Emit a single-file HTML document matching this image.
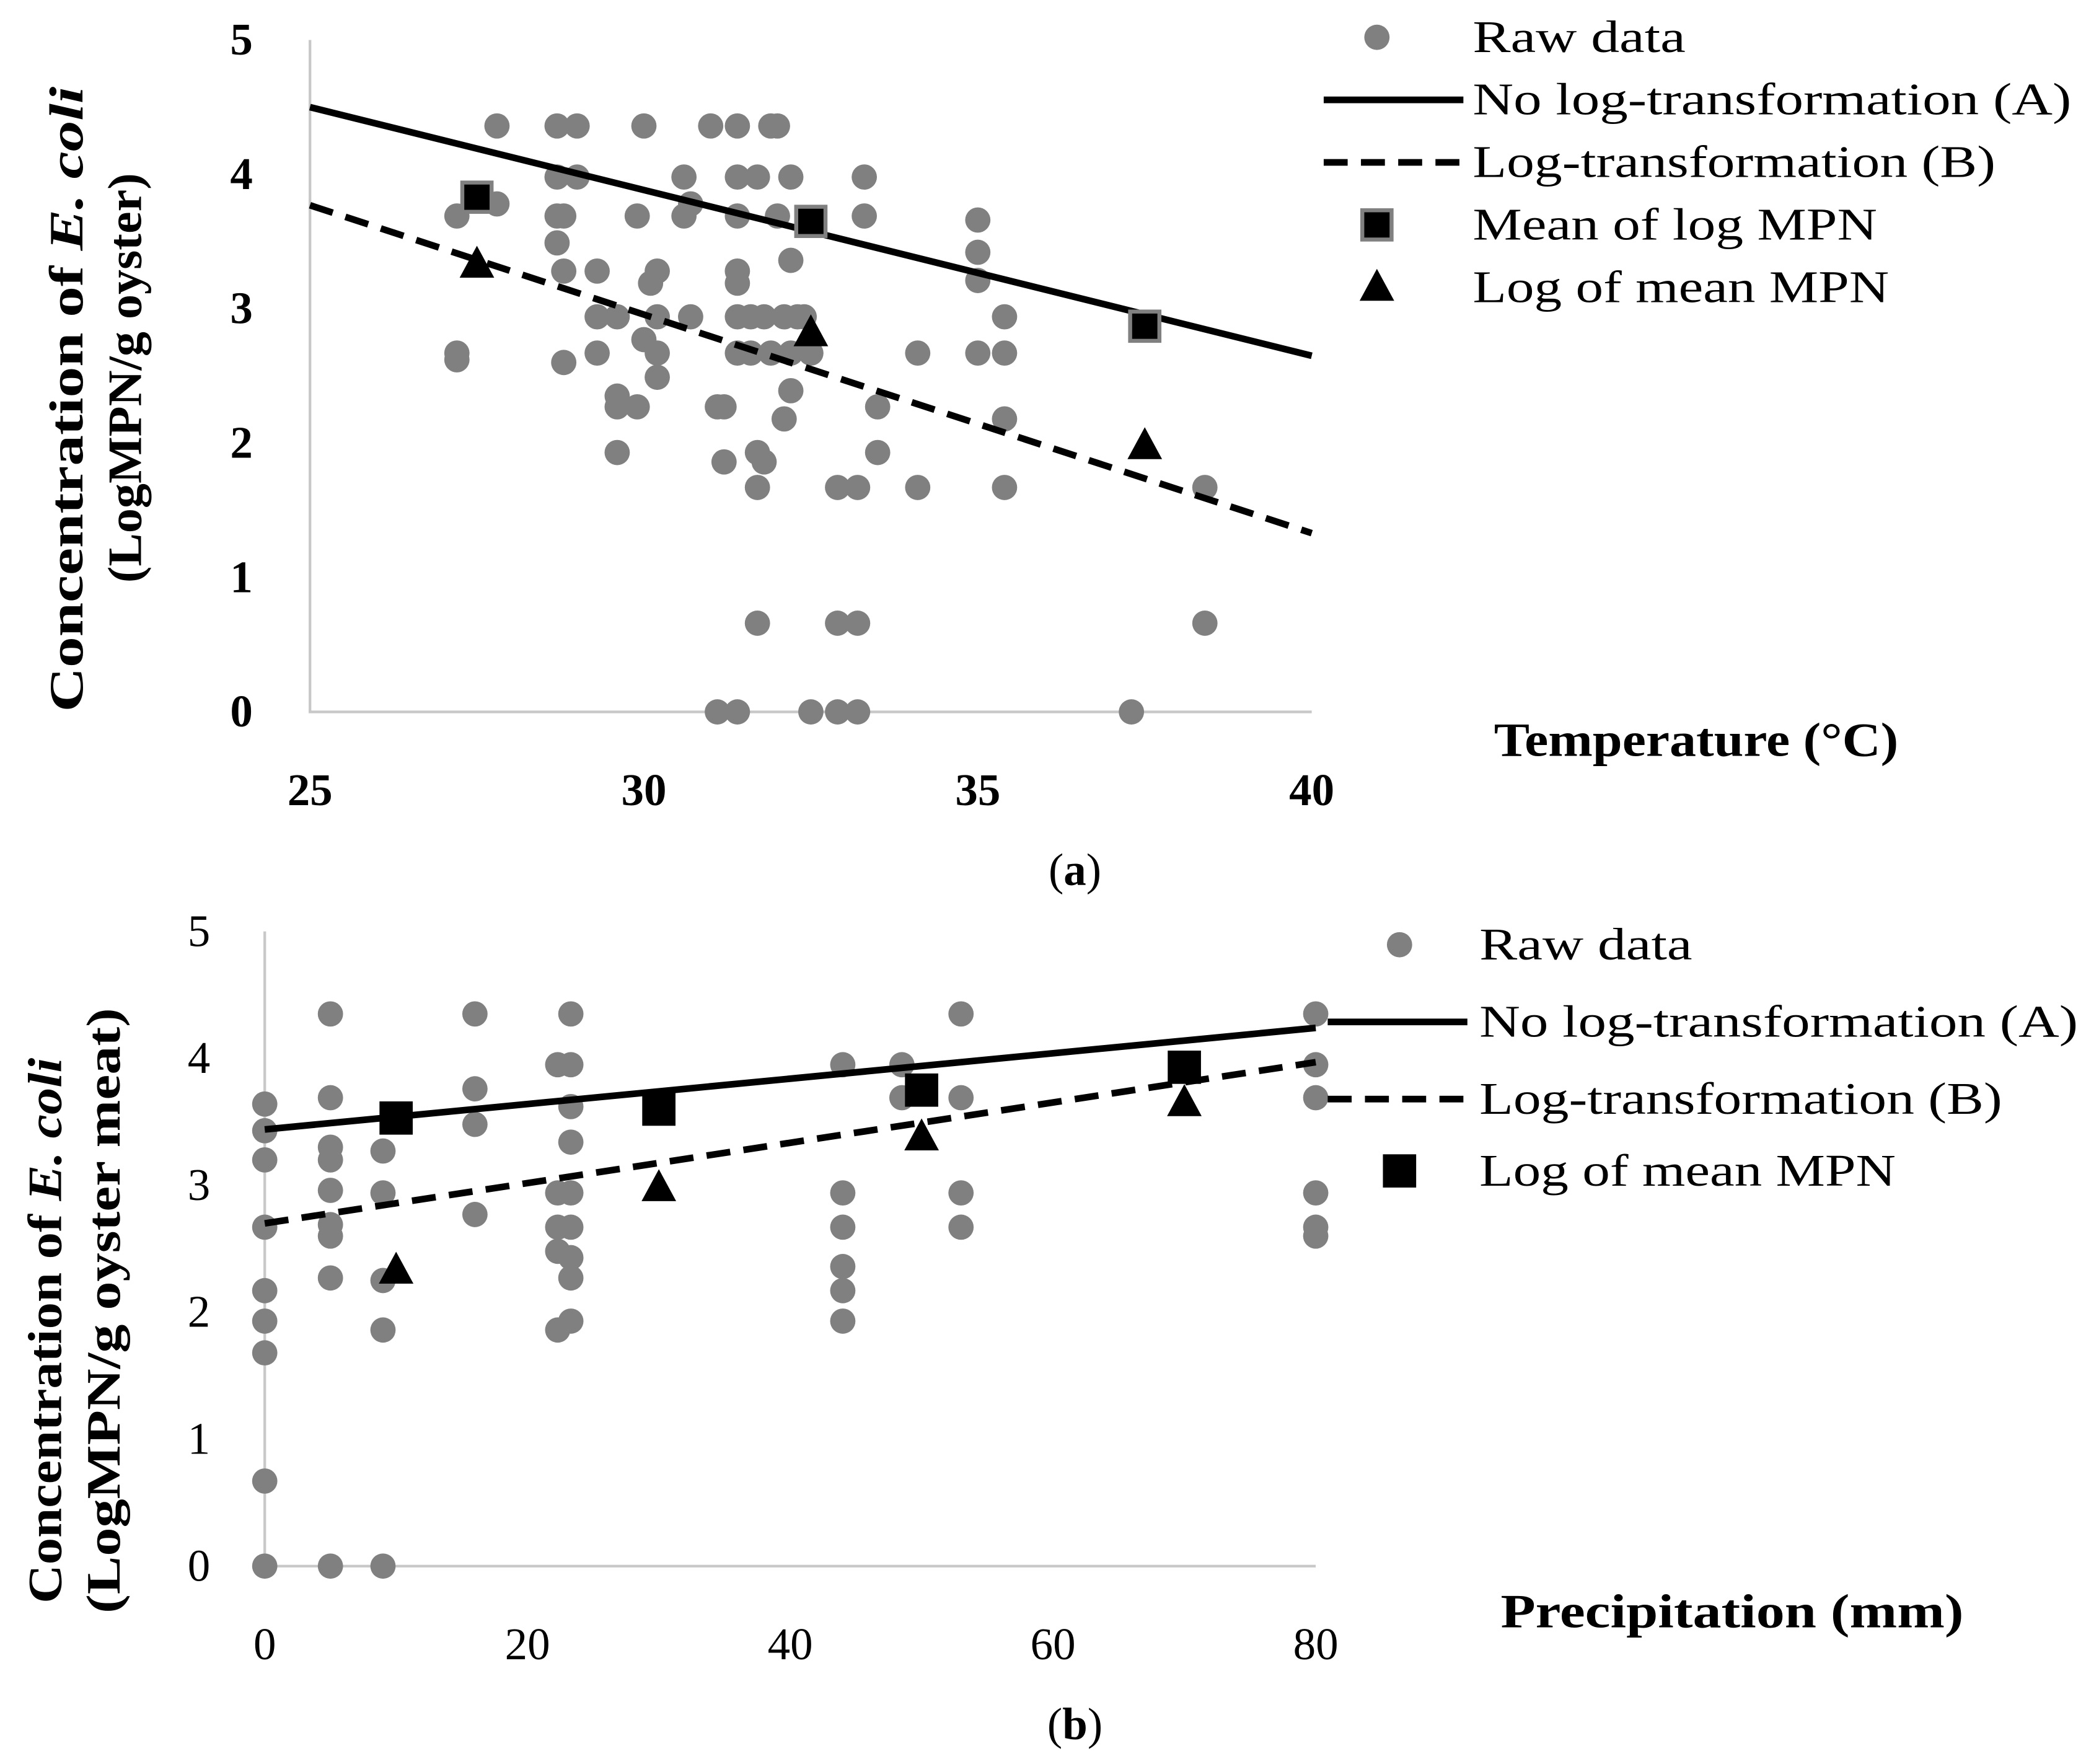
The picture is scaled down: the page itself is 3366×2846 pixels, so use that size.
<!DOCTYPE html>
<html><head><meta charset="utf-8"><style>html,body{margin:0;padding:0;background:#fff}svg{display:block}text{font-family:"Liberation Serif",serif;fill:#000}</style></head>
<body>
<svg id="s" width="3366" height="2846" viewBox="0 0 1568 1325.7" xmlns="http://www.w3.org/2000/svg"></svg>
<script>
// ---- Chart (a) data ----
const aRawX=[27.2,27.2,27.2,27.8,27.8,28.7,29.0,28.7,29.0,28.7,28.8,28.7,28.8,28.8,29.3,29.3,29.6,29.3,29.6,29.6,29.6,29.9,29.9,30.0,30.0,30.2,30.1,30.2,30.2,30.2,30.6,30.6,30.7,30.7,31.0,31.4,31.9,32.0,31.4,31.7,32.2,31.4,32.0,31.4,31.4,31.4,31.6,31.8,32.1,32.3,32.4,31.4,31.6,31.9,32.2,32.5,32.2,32.2,32.1,31.1,31.2,31.2,31.7,31.8,31.7,32.9,33.2,33.5,33.5,33.3,33.3,34.1,34.1,35.0,35.0,35.0,35.0,35.4,35.4,35.4,35.4,38.4,31.7,32.9,33.2,38.4,31.1,31.4,32.5,32.9,33.2,37.3];
const aRawY=[2.62,2.67,3.69,3.78,4.36,4.36,4.36,3.98,3.98,3.69,3.69,3.49,3.28,2.6,3.28,2.94,2.94,2.67,2.35,2.27,1.93,2.27,3.69,4.36,2.77,3.28,3.19,2.94,2.67,2.49,3.98,3.69,3.78,2.94,4.36,4.36,4.36,4.36,3.98,3.98,3.98,3.69,3.69,3.28,3.19,2.94,2.94,2.94,2.94,2.94,2.94,2.67,2.67,2.67,2.67,2.67,3.36,2.39,2.18,2.27,2.27,1.86,1.93,1.86,1.67,1.67,1.67,2.27,1.93,3.69,3.98,2.67,1.67,3.66,3.42,3.21,2.67,2.94,2.67,2.18,1.67,1.67,0.66,0.66,0.66,0.66,0,0,0,0,0,0];
const aMeanX=[27.5,32.5,37.5];
const aMeanLog=[3.83,3.65,2.87];
const aLogMean=[3.33,2.82,1.98];
const aLineX=[25,40];
const aLineA=[4.5,2.65];
const aLineB=[3.77,1.33];
const aXTicks=[25,30,35,40];
const aYTicks=[0,1,2,3,4,5];
// ---- Chart (b) data ----
const bRawX=[0,0,0,0,0,0,0,0,0,5,5,5,5,5,5,5,5,5,9,9,9,9,9,16,16,16,16,23.3,22.3,23.3,23.3,23.3,22.3,23.3,22.3,23.3,22.3,23.3,23.3,23.3,22.3,44,44,44,44,44,44,48.5,48.5,53,53,53,53,80,80,80,80,80,80];
const bRawY=[3.64,3.43,3.2,2.67,2.17,1.93,1.68,0.67,0,4.35,3.69,3.3,3.2,2.96,2.69,2.6,2.27,0,3.27,2.94,2.25,1.86,0,4.35,3.76,3.48,2.77,4.35,3.95,3.95,3.62,3.34,2.94,2.94,2.67,2.67,2.48,2.43,2.27,1.93,1.86,3.95,2.94,2.67,2.36,2.17,1.93,3.95,3.69,4.35,3.69,2.94,2.67,4.35,3.95,3.69,2.94,2.67,2.6];
const bMeanX=[10,30,50,70];
const bLogMeanSq=[3.53,3.6,3.75,3.93];
const bTri=[2.33,2.98,3.38,3.65];
const bLineX=[0,80];
const bLineA=[3.44,4.24];
const bLineB=[2.7,3.97];
const bXTicks=[0,20,40,60,80];
const bYTicks=[0,1,2,3,4,5];

const S=document.getElementById('s');const NS='http://www.w3.org/2000/svg';
function mk(t,a,p){const e=document.createElementNS(NS,t);for(const k in a)e.setAttribute(k,a[k]);(p||S).appendChild(e);return e;}
function tx(x,y,str,o,p,len){const e=mk('text',Object.assign({x:x,y:y},o||{}),p);e.textContent=str;if(len){e.setAttribute('textLength',len);e.setAttribute('lengthAdjust','spacingAndGlyphs');}return e;}

function chart(c){
  const g=mk('g',{});
  
  
  const X=v=>c.x0+(v-c.xmin)/(c.xmax-c.xmin)*(c.x1-c.x0);
  const Y=v=>c.y0-(v-0)/5*(c.y0-c.y1);
  const ax=mk('path',{d:`M${c.x0},${c.y1}V${c.y0}H${c.x1}`,stroke:'#c8c8c8','stroke-width':2,fill:'none'},g);
  
  c.xt.forEach(v=>{const t=tx(X(v),c.y0+70,v,{'text-anchor':'middle','font-size':34,'font-weight':c.bold?'bold':'normal'},g);
    });
  c.yt.forEach(v=>{const t=tx(c.x0-c.ytoff,Y(v)+11,v,{'text-anchor':'end','font-size':34,'font-weight':c.bold?'bold':'normal'},g);
    });
  c.rx.forEach((v,i)=>{const p=mk('circle',{cx:X(v),cy:Y(c.ry[i]),r:9.5,fill:'#808080'},g);
    });
  const la=mk('line',{x1:X(c.lx[0]),y1:Y(c.la[0]),x2:X(c.lx[1]),y2:Y(c.la[1]),stroke:'#000','stroke-width':5},g);
  
  const lb=mk('line',{x1:X(c.lx[0]),y1:Y(c.lb[0]),x2:X(c.lx[1]),y2:Y(c.lb[1]),stroke:'#000','stroke-width':5,'stroke-dasharray':'18,10'},g);
  
  c.mx.forEach((v,i)=>{const q=mk('rect',{x:X(v)-11,y:Y(c.sq[i])-11,width:22,height:22,fill:'#000',stroke:c.sqStroke,'stroke-width':3},g);
    
    const cx=X(v),cy=Y(c.tri[i]);
    const t=mk('polygon',{points:`${cx},${cy-14} ${cx-13},${cy+10} ${cx+13},${cy+10}`,fill:'#000'},g);
    });
  const xt=tx(c.xtx,c.xty,c.xtitle,{'text-anchor':'middle','font-size':36,'font-weight':'bold'},g,c.xtlen);
  
  const yg=mk('g',{transform:`translate(${c.ytx},${c.yty}) rotate(-90)`},g);
  
  const l1=mk('text',{x:c.l1c,y:0,'text-anchor':'middle','font-size':36,'font-weight':'bold',textLength:c.l1len,lengthAdjust:'spacingAndGlyphs'},yg);
  const t1=mk('tspan',{},l1);t1.textContent='Concentration of ';
  const t2=mk('tspan',{'font-style':'italic'},l1);t2.textContent='E. coli';
  const l2=mk('text',{x:c.l2c,y:44,'text-anchor':'middle','font-size':36,'font-weight':'bold',textLength:c.l2len,lengthAdjust:'spacingAndGlyphs'},yg);
  l2.textContent=c.ysub;
  const cap=mk('text',{x:808,y:c.capy,'text-anchor':'middle','font-size':34},g);
  
  const b1=mk('tspan',{},cap);b1.textContent='(';const b2=mk('tspan',{'font-weight':'bold'},cap);b2.textContent=c.cap;const b3=mk('tspan',{},cap);b3.textContent=')';
  // legend
  c.leg.forEach((l,i)=>{const y=c.ly[i];const lg=mk('g',{},g);
    
    if(l[0]=='c')mk('circle',{cx:c.lmx,cy:y,r:9.5,fill:'#808080'},lg);
    if(l[0]=='s')mk('line',{x1:c.llx,y1:y,x2:c.llx+105,y2:y,stroke:'#000','stroke-width':5},lg);
    if(l[0]=='d')mk('line',{x1:c.llx,y1:y,x2:c.llx+105,y2:y,stroke:'#000','stroke-width':5,'stroke-dasharray':'18,10'},lg);
    if(l[0]=='q')mk('rect',{x:c.lmx-11,y:y-11,width:22,height:22,fill:'#000',stroke:c.sqStroke,'stroke-width':3},lg);
    if(l[0]=='t')mk('polygon',{points:`${c.lmx},${y-14} ${c.lmx-13},${y+10} ${c.lmx+13},${y+10}`,fill:'#000'},lg);
    tx(c.ltx,y+11,l[1],{'font-size':34},lg,l[2]);});
}
chart({name:'chart-temperature',x0:233,x1:986,xmin:25,xmax:40,y0:535,y1:30,xt:aXTicks,yt:aYTicks,bold:true,ytoff:43,
  rx:aRawX,ry:aRawY,lx:aLineX,la:aLineA,lb:aLineB,mx:aMeanX,sq:aMeanLog,tri:aLogMean,sqStroke:'#808080',
  xtitle:'Temperature (°C)',xtx:1275,xty:568,xtlen:304,ytx:62,yty:290,l1c:-10,l1len:470,l2c:6,l2len:308,ysub:'(LogMPN/g oyster)',cap:'a',capy:665,
  leg:[['c','Raw data',160],['s','No log-transformation (A)',450],['d','Log-transformation (B)',393],['q','Mean of log MPN',304],['t','Log of mean MPN',313]],
  ly:[28,75,122,169,216],lmx:1035,llx:995,ltx:1107});
chart({name:'chart-precipitation',x0:199,x1:989,xmin:0,xmax:80,y0:1177,y1:700,xt:bXTicks,yt:bYTicks,bold:false,ytoff:41,
  rx:bRawX,ry:bRawY,lx:bLineX,la:bLineA,lb:bLineB,mx:bMeanX,sq:bLogMeanSq,tri:bTri,sqStroke:'#000',
  xtitle:'Precipitation (mm)',xtx:1302,xty:1223,xtlen:348,ytx:46,yty:985,l1c:-15,l1len:410,l2c:0,l2len:455,ysub:'(LogMPN/g oyster meat)',cap:'b',capy:1307,
  leg:[['c','Raw data',160],['s','No log-transformation (A)',450],['d','Log-transformation (B)',393],['q','Log of mean MPN',313]],
  ly:[710,768,826,880],lmx:1052,llx:998,ltx:1112});
</script>
</body></html>
